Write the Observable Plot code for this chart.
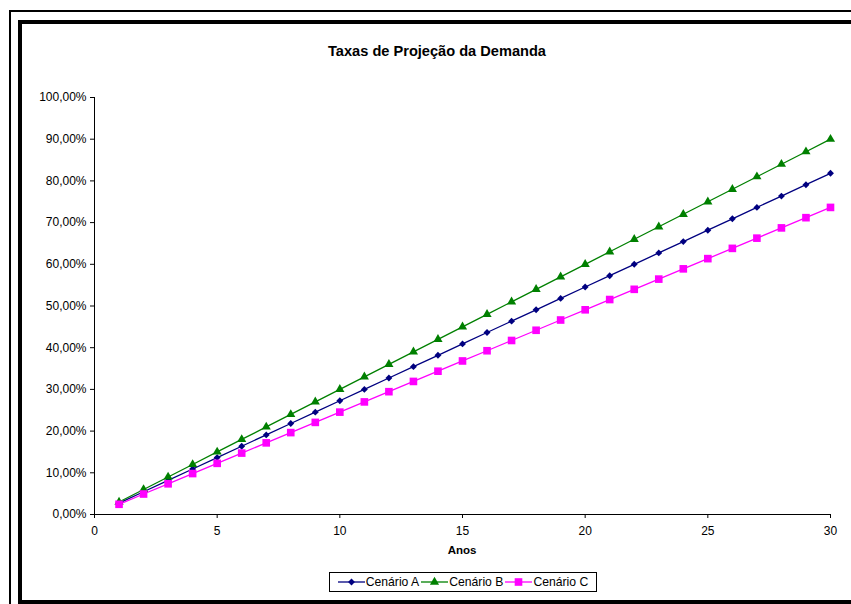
<!DOCTYPE html>
<html>
<head>
<meta charset="utf-8">
<script src="https://cdn.jsdelivr.net/npm/d3@7"></script>
<script src="https://cdn.jsdelivr.net/npm/@observablehq/plot@0.6"></script>
<style>
  html, body { margin: 0; padding: 0; background: #fff; }
  #wrap { position: relative; width: 851px; height: 604px; overflow: hidden; font-family: "Liberation Sans", Arial, sans-serif; color: #000; }
  #wrap svg.plot { position: absolute; left: 0; top: 0; }
  .abs { position: absolute; }
  #outer { left: 9px; top: 10px; width: 900px; height: 700px; border: 2px solid #000; box-sizing: border-box; }
  #inner { left: 18px; top: 20px; width: 900px; height: 584px; border: 4px solid #000; box-sizing: border-box; }
  #title { left: 237px; width: 400px; top: 43px; text-align: center; font-weight: bold; font-size: 14.6px; }
  #xlabel { left: 412px; width: 100px; top: 544px; text-align: center; font-weight: bold; font-size: 11.5px; }
  #legend { left: 329px; top: 572px; width: 268px; height: 20px; border: 1px solid #000; box-sizing: border-box; display: flex; align-items: center; justify-content: center; font-size: 12.2px; gap: 2px; }
  #legend .item { display: flex; align-items: center; }
  #legend .item span { margin-left: 1px; }
</style>
</head>
<body>
<div id="wrap">
  <div class="abs" id="outer"></div>
  <div class="abs" id="inner"></div>
  <div id="chart"></div>
  <div class="abs" id="title">Taxas de Projeção da Demanda</div>
  <div class="abs" id="xlabel">Anos</div>
  <div class="abs" id="legend"></div>
</div>
<script>
const years = [1,2,3,4,5,6,7,8,9,10,11,12,13,14,15,16,17,18,19,20,21,22,23,24,25,26,27,28,29,30];
const cenarioA = [2.73,5.45,8.18,10.91,13.64,16.36,19.09,21.82,24.55,27.27,30.00,32.73,35.45,38.18,40.91,43.64,46.36,49.09,51.82,54.55,57.27,60.00,62.73,65.45,68.18,70.91,73.64,76.36,79.09,81.82];
const cenarioB = [3,6,9,12,15,18,21,24,27,30,33,36,39,42,45,48,51,54,57,60,63,66,69,72,75,78,81,84,87,90];
const cenarioC = [2.45,4.91,7.36,9.82,12.27,14.73,17.18,19.64,22.09,24.55,27.00,29.45,31.91,34.36,36.82,39.27,41.73,44.18,46.64,49.09,51.55,54.00,56.45,58.91,61.36,63.82,66.27,68.73,71.18,73.64];
const seriesNames = ["Cenário A", "Cenário B", "Cenário C"];
const seriesValues = [cenarioA, cenarioB, cenarioC];
const seriesColors = ["#000080", "#008000", "#FF00FF"];
const seriesSymbols = ["diamond2", "triangle", "square"];
const seriesRadius = [3.1, 3.4, 4.3];
const yTicks = [0,10,20,30,40,50,60,70,80,90,100];
const xTicks = [0,5,10,15,20,25,30];

const fmtPct = d => d.toFixed(2).replace(".", ",") + "%";

const marks = [];
seriesNames.forEach((name, i) => {
  const rows = years.map((yr, j) => ({year: yr, value: seriesValues[i][j], series: name}));
  marks.push(Plot.line(rows, {x: "year", y: "value", stroke: seriesColors[i], strokeWidth: 1.3}));
});
seriesNames.forEach((name, i) => {
  const rows = years.map((yr, j) => ({year: yr, value: seriesValues[i][j], series: name}));
  marks.push(Plot.dot(rows, {x: "year", y: "value", fill: seriesColors[i], stroke: "none", symbol: seriesSymbols[i], r: seriesRadius[i]}));
});

const chart = Plot.plot({
  width: 851,
  height: 604,
  marginLeft: 94,
  marginRight: 21,
  marginTop: 97,
  marginBottom: 90,
  style: {fontFamily: "'Liberation Sans', Arial, sans-serif", fontSize: "12px", color: "#000", background: "transparent"},
  x: {domain: [0, 30]},
  y: {domain: [0, 100]},
  marks: [
    Plot.axisY({ticks: yTicks, tickFormat: fmtPct, tickSize: 4, tickPadding: 4, label: null, stroke: "#000", fontSize: 12}),
    Plot.axisX({ticks: xTicks, tickFormat: d => String(d), tickSize: 4, tickPadding: 8, label: null, stroke: "#000", fontSize: 12}),
    Plot.ruleX([0], {stroke: "#000"}),
    Plot.ruleY([0], {stroke: "#000"}),
    ...marks
  ]
});
document.getElementById("chart").appendChild(chart);

// legend
const legend = document.getElementById("legend");
const symbolPath = {
  diamond2: d3.symbol(d3.symbolDiamond2, Math.PI * 3.1 * 3.1)(),
  triangle: d3.symbol(d3.symbolTriangle, Math.PI * 3.4 * 3.4)(),
  square: d3.symbol(d3.symbolSquare, Math.PI * 4.3 * 4.3)()
};
seriesNames.forEach((name, i) => {
  const item = document.createElement("div");
  item.className = "item";
  item.innerHTML = `<svg width="27" height="12"><line x1="0" x2="27" y1="6" y2="6" stroke="${seriesColors[i]}" stroke-width="1.3"/><path transform="translate(13.5,6)" d="${symbolPath[seriesSymbols[i]]}" fill="${seriesColors[i]}"/></svg><span>${name}</span>`;
  legend.appendChild(item);
});
</script>
</body>
</html>
